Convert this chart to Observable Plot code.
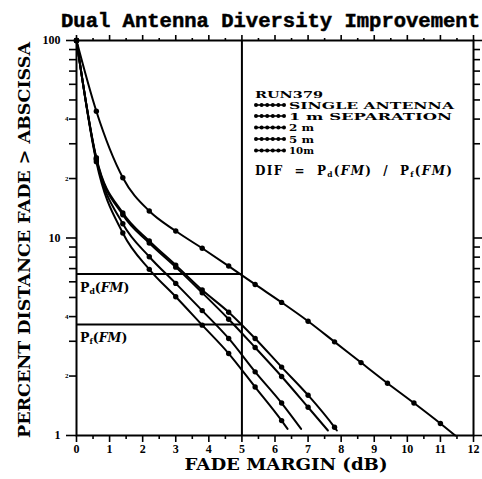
<!DOCTYPE html>
<html><head><meta charset="utf-8">
<script src="https://cdn.jsdelivr.net/npm/d3@7"></script>
<script src="https://cdn.jsdelivr.net/npm/@observablehq/plot@0.6"></script>
<style>body{margin:0;background:#fff;}</style>
</head><body><div id="chart"></div>
<script>
// ---- data ----
const seriesNames = ["SINGLE ANTENNA", "1 m SEPARATION", "2 m", "5 m", "10m"];
const singleX = [0, 0.6, 1.4, 2.2, 3.0, 3.8, 4.6, 5.4, 6.2, 7.0, 7.8, 8.6, 9.4, 10.2, 11.0, 11.45];
const singleY = [100, 43.8, 20.2, 13.7, 10.85, 8.87, 7.21, 5.82, 4.72, 3.79, 2.98, 2.34, 1.84, 1.46, 1.15, 1.0];
const sep1mX = [0, 0.6, 1.4, 2.2, 3.0, 3.8, 4.6, 5.4, 6.2, 7.0, 7.8, 7.87];
const sep1mY = [100, 25.5, 13.4, 9.66, 7.29, 5.45, 4.21, 3.10, 2.22, 1.60, 1.10, 1.06];
const sep2mX = [0, 0.6, 1.4, 2.2, 3.0, 3.8, 4.6, 5.4, 6.2, 7.0, 7.60];
const sep2mY = [100, 25.2, 13.1, 9.43, 7.12, 5.28, 3.88, 2.79, 1.99, 1.39, 1.06];
const sep5mX = [0, 0.6, 1.4, 2.2, 3.0, 3.8, 4.6, 5.4, 6.2, 6.79];
const sep5mY = [100, 24.9, 11.8, 8.04, 5.89, 4.29, 3.10, 2.10, 1.46, 1.08];
const sep10mX = [0, 0.6, 1.4, 2.2, 3.0, 3.8, 4.6, 5.4, 6.2, 6.38];
const sep10mY = [100, 24.3, 10.6, 6.94, 5.04, 3.62, 2.60, 1.76, 1.19, 1.08];

const fadeMarginLine = 5;          // vertical reference line (dB)
const pdLevel = 6.57;              // Pd(FM)
const pfLevel = 3.65;              // Pf(FM)

const xMajorTicks = [0, 1, 2, 3, 4, 5, 6, 7, 8, 9, 10, 11, 12];
const xMinorTicks = [0.5, 1.5, 2.5, 3.5, 4.5, 5.5, 6.5, 7.5, 8.5, 9.5, 10.5, 11.5];
const yMajorTicks = [1, 10, 100];
const yMinorTicks = [2, 3, 4, 5, 6, 7, 8, 9, 20, 30, 40, 50, 60, 70, 80, 90];
const yMinorLabels = {2: "2", 4: "4", 6: "6", 8: "8", 20: "2", 40: "4", 60: "6", 80: "8"};

const titleText = "Dual Antenna Diversity Improvement";
const xLabel = "FADE MARGIN (dB)";
const yLabel = "PERCENT DISTANCE FADE > ABSCISSA";
const runLabel = "RUN379";

// ---- build table ----
const seriesX = [singleX, sep1mX, sep2mX, sep5mX, sep10mX];
const seriesY = [singleY, sep1mY, sep2mY, sep5mY, sep10mY];
const rows = [];
seriesNames.forEach((name, s) => {
  seriesX[s].forEach((x, i) => rows.push({series: name, x, y: seriesY[s][i], marker: i < seriesX[s].length - 1}));
});
const refRows = [{y: pdLevel, x1: 0, x2: fadeMarginLine}, {y: pfLevel, x1: 0, x2: fadeMarginLine}];

const serif = "DejaVu Serif";
const chart = Plot.plot({
  width: 482, height: 479,
  marginLeft: 76, marginRight: 9, marginTop: 40, marginBottom: 44,
  x: {domain: [0, 12]},
  y: {type: "log", domain: [1, 100]},
  style: {background: "white", color: "black", fontFamily: "Liberation Serif"},
  marks: [
    Plot.axisX({anchor: "bottom", ticks: xMajorTicks, tickSize: 7, tickPadding: 2, tickFormat: d => String(d), fontSize: 12, fontWeight: "bold", label: null, strokeWidth: 1.6}),
    Plot.axisX({anchor: "bottom", ticks: xMinorTicks, tickSize: 4, tickFormat: () => "", label: null, strokeWidth: 1.6}),
    Plot.axisX({anchor: "top", ticks: xMajorTicks, tickSize: 6, tickFormat: () => "", label: null, strokeWidth: 1.6}),
    Plot.axisX({anchor: "top", ticks: xMinorTicks, tickSize: 3, tickFormat: () => "", label: null, strokeWidth: 1.6}),
    Plot.axisY({anchor: "left", ticks: yMajorTicks, tickSize: 10, tickPadding: 6, tickFormat: d => String(d), fontSize: 12, fontWeight: "bold", label: null, strokeWidth: 1.6}),
    Plot.axisY({anchor: "left", ticks: yMinorTicks, tickSize: 7, tickPadding: 1, tickFormat: d => yMinorLabels[d] || "", fontSize: 7, fontWeight: "bold", label: null, strokeWidth: 1.6}),
    Plot.axisY({anchor: "right", ticks: yMajorTicks, tickSize: 8, tickFormat: () => "", label: null, strokeWidth: 1.6}),
    Plot.axisY({anchor: "right", ticks: yMinorTicks, tickSize: 6, tickFormat: () => "", label: null, strokeWidth: 1.6}),
    Plot.frame({strokeWidth: 2}),
    Plot.ruleX([fadeMarginLine], {strokeWidth: 2}),
    Plot.ruleY(refRows, {y: "y", x1: "x1", x2: "x2", strokeWidth: 2}),
    Plot.line(rows, {x: "x", y: "y", z: "series", curve: "monotone-x", strokeWidth: 2}),
    Plot.dot(rows.filter(d => d.marker), {x: "x", y: "y", r: 2.7, fill: "black", stroke: "none"})
  ]
});
document.getElementById("chart").appendChild(chart);

// ---- annotations ----
const svg = d3.select(chart);
const sx = chart.scale("x"), sy = chart.scale("y");
const g = svg.append("g").attr("fill", "black").attr("text-anchor", "start");

g.append("text").attr("x", 61).attr("y", 27)
  .attr("font-family", "Liberation Mono").attr("font-weight", "bold").attr("font-size", 20)
  .attr("textLength", 419).attr("lengthAdjust", "spacingAndGlyphs")
  .attr("stroke", "black").attr("stroke-width", 0.5)
  .text(titleText);

g.append("text").attr("x", 286).attr("y", 470).attr("text-anchor", "middle")
  .attr("font-family", serif).attr("font-weight", "bold").attr("font-size", 16)
  .attr("textLength", 203).attr("lengthAdjust", "spacingAndGlyphs")
  .text(xLabel);

g.append("text").attr("x", 30).attr("y", 240).attr("text-anchor", "middle")
  .attr("transform", "rotate(-90,30,240)")
  .attr("font-family", serif).attr("font-weight", "bold").attr("font-size", 16)
  .attr("textLength", 396).attr("lengthAdjust", "spacingAndGlyphs")
  .text(yLabel);

function pLabel(x, y, sub, size) {
  const t = g.append("text").attr("x", x).attr("y", y)
    .attr("font-family", serif).attr("font-weight", "bold").attr("font-size", size);
  t.append("tspan").text("P");
  t.append("tspan").attr("font-size", size * 0.62).attr("dy", size * 0.2).text(sub);
  t.append("tspan").attr("dy", -size * 0.2).text("(");
  t.append("tspan").attr("font-style", "italic").text("FM");
  t.append("tspan").text(")");
  return t;
}
pLabel(sx.apply(0) + 4, sy.apply(pdLevel) + 18, "d", 12.5);
pLabel(sx.apply(0) + 4, sy.apply(pfLevel) + 18, "f", 12.5);

// legend
const legendFont = 9.5;
g.append("text").attr("x", 255).attr("y", 98)
  .attr("font-family", serif).attr("font-weight", "bold").attr("font-size", legendFont)
  .attr("textLength", 68).attr("lengthAdjust", "spacingAndGlyphs").text(runLabel);
const legendRows = [
  {name: seriesNames[0], y: 108.5, len: 165},
  {name: seriesNames[1], y: 119.5, len: 163},
  {name: seriesNames[2], y: 131, len: 25},
  {name: seriesNames[3], y: 142.5, len: 25},
  {name: seriesNames[4], y: 154, len: 25}
];
legendRows.forEach(r => {
  const cy = r.y - 3.5;
  g.append("line").attr("x1", 255).attr("x2", 285).attr("y1", cy).attr("y2", cy)
    .attr("stroke", "black").attr("stroke-width", 1.6);
  for (let k = 0; k < 6; k++) g.append("circle").attr("cx", 256 + k * 5.6).attr("cy", cy).attr("r", 2);
  g.append("text").attr("x", 289).attr("y", r.y)
    .attr("font-family", serif).attr("font-weight", "bold").attr("font-size", legendFont)
    .attr("textLength", r.len).attr("lengthAdjust", "spacingAndGlyphs").text(r.name);
});
const dif = g.append("text").attr("x", 255).attr("y", 175)
  .attr("font-family", serif).attr("font-weight", "bold").attr("font-size", 12)
  .attr("textLength", 197).attr("lengthAdjust", "spacing");
dif.append("tspan").text("DIF  =  P");
dif.append("tspan").attr("font-size", 7.5).attr("dy", 2.4).text("d");
dif.append("tspan").attr("dy", -2.4).text("(");
dif.append("tspan").attr("font-style", "italic").text("FM");
dif.append("tspan").text(")  /  P");
dif.append("tspan").attr("font-size", 7.5).attr("dy", 2.4).text("f");
dif.append("tspan").attr("dy", -2.4).text("(");
dif.append("tspan").attr("font-style", "italic").text("FM");
dif.append("tspan").text(")");
</script>
</body></html>
